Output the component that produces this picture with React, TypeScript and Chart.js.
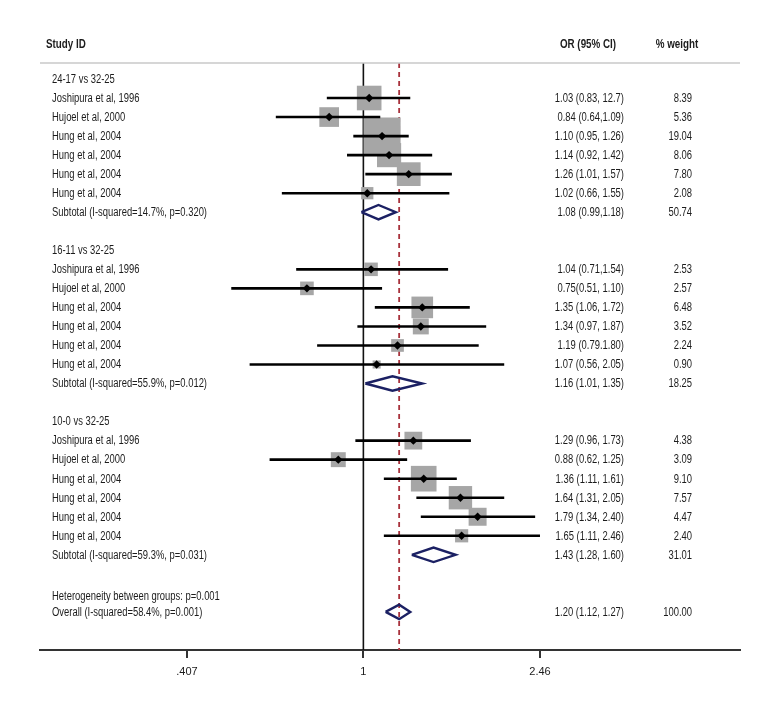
import React, { useEffect, useRef } from "react";
import { Chart, registerables } from "chart.js";

Chart.register(...registerables);

// ---------------- data ----------------
const groupLabels = ["24-17 vs 32-25", "16-11 vs 32-25", "10-0 vs 32-25"];
const studyNames = [
  "Joshipura et al, 1996",
  "Hujoel et al, 2000",
  "Hung et al, 2004",
  "Hung et al, 2004",
  "Hung et al, 2004",
  "Hung et al, 2004",
];

const g1Or = [1.03, 0.84, 1.1, 1.14, 1.26, 1.02];
const g1Lo = [0.83, 0.64, 0.95, 0.92, 1.01, 0.66];
const g1Hi = [1.27, 1.09, 1.26, 1.42, 1.57, 1.55];
const g1Weight = [8.39, 5.36, 19.04, 8.06, 7.8, 2.08];
const g1Text = ["1.03 (0.83, 12.7)", "0.84 (0.64,1.09)", "1.10 (0.95, 1.26)", "1.14 (0.92, 1.42)", "1.26 (1.01, 1.57)", "1.02 (0.66, 1.55)"];

const g2Or = [1.04, 0.75, 1.35, 1.34, 1.19, 1.07];
const g2Lo = [0.71, 0.51, 1.06, 0.97, 0.79, 0.56];
const g2Hi = [1.54, 1.1, 1.72, 1.87, 1.8, 2.05];
const g2Weight = [2.53, 2.57, 6.48, 3.52, 2.24, 0.9];
const g2Text = ["1.04 (0.71,1.54)", "0.75(0.51, 1.10)", "1.35 (1.06, 1.72)", "1.34 (0.97, 1.87)", "1.19 (0.79.1.80)", "1.07 (0.56, 2.05)"];

const g3Or = [1.29, 0.88, 1.36, 1.64, 1.79, 1.65];
const g3Lo = [0.96, 0.62, 1.11, 1.31, 1.34, 1.11];
const g3Hi = [1.73, 1.25, 1.61, 2.05, 2.4, 2.46];
const g3Weight = [4.38, 3.09, 9.1, 7.57, 4.47, 2.4];
const g3Text = ["1.29 (0.96, 1.73)", "0.88 (0.62, 1.25)", "1.36 (1.11, 1.61)", "1.64 (1.31, 2.05)", "1.79 (1.34, 2.40)", "1.65 (1.11, 2.46)"];

const subtotalLabels = [
  "Subtotal (I-squared=14.7%, p=0.320)",
  "Subtotal (I-squared=55.9%, p=0.012)",
  "Subtotal (I-squared=59.3%, p=0.031)",
];
const subtotalOr = [1.08, 1.16, 1.43];
const subtotalLo = [0.99, 1.01, 1.28];
const subtotalHi = [1.18, 1.35, 1.6];
const subtotalWeight = [50.74, 18.25, 31.01];
const subtotalText = ["1.08 (0.99,1.18)", "1.16 (1.01, 1.35)", "1.43 (1.28, 1.60)"];

const overallLabel = "Overall (I-squared=58.4%, p=0.001)";
const heterogeneityLabel = "Heterogeneity between groups: p=0.001";
const overallOr = 1.2;
const overallLo = 1.12;
const overallHi = 1.27;
const overallWeight = 100.0;
const overallText = "1.20 (1.12, 1.27)";

const tickValues = [0.407, 1, 2.46];
const tickLabels = [".407", "1", "2.46"];

// ---------------- styling ----------------
const FONT = '"Liberation Sans", Arial, sans-serif';
const TEXT_SQUEEZE = 0.785;
const TEXT_COLOR = "#1c1c1c";
const BOX_COLOR = "#a6a6a6";
const DIAMOND_COLOR = "#1b2063";
const REF_RED = "#a8323c";
const BOX_SCALE = 8.5;
const DIAMOND_HALF = 0.38;
const X_MIN = 0.1924;
const X_MAX = 6.818;
const Y_MIN = -0.84;
const Y_MAX = 30;

type Row = {
  y: number;
  label: string;
  kind: "group" | "study" | "sub" | "overall" | "het";
  or?: number;
  lo?: number;
  hi?: number;
  w?: number;
  ciText?: string;
};

const groups = [
  { or: g1Or, lo: g1Lo, hi: g1Hi, w: g1Weight, t: g1Text },
  { or: g2Or, lo: g2Lo, hi: g2Hi, w: g2Weight, t: g2Text },
  { or: g3Or, lo: g3Lo, hi: g3Hi, w: g3Weight, t: g3Text },
];

const rows: Row[] = [];
groups.forEach((g, gi) => {
  const start = gi * 9;
  rows.push({ y: start, label: groupLabels[gi], kind: "group" });
  studyNames.forEach((name, i) => {
    rows.push({
      y: start + 1 + i,
      label: name,
      kind: "study",
      or: g.or[i],
      lo: g.lo[i],
      hi: g.hi[i],
      w: g.w[i],
      ciText: g.t[i],
    });
  });
  rows.push({
    y: start + 7,
    label: subtotalLabels[gi],
    kind: "sub",
    or: subtotalOr[gi],
    lo: subtotalLo[gi],
    hi: subtotalHi[gi],
    w: subtotalWeight[gi],
    ciText: subtotalText[gi],
  });
});
rows.push({ y: 27.15, label: heterogeneityLabel, kind: "het" });
rows.push({
  y: 28,
  label: overallLabel,
  kind: "overall",
  or: overallOr,
  lo: overallLo,
  hi: overallHi,
  w: overallWeight,
  ciText: overallText,
});

function squeezedText(ctx: CanvasRenderingContext2D, text: string, x: number, y: number, align: CanvasTextAlign) {
  ctx.save();
  ctx.translate(x, y);
  ctx.scale(TEXT_SQUEEZE, 1);
  ctx.textAlign = align;
  ctx.fillText(text, 0, 0);
  ctx.restore();
}

const textPlugin = {
  id: "forestText",
  afterDraw(chart: any) {
    const { ctx, chartArea, scales } = chart;
    const y = scales.y;
    ctx.save();
    ctx.strokeStyle = "#c9c9c9";
    ctx.lineWidth = 1.5;
    ctx.beginPath();
    ctx.moveTo(chartArea.left, chartArea.top);
    ctx.lineTo(chartArea.right, chartArea.top);
    ctx.stroke();

    ctx.fillStyle = TEXT_COLOR;
    ctx.textBaseline = "middle";
    const hy = chartArea.top - 18;
    ctx.font = `bold 12.5px ${FONT}`;
    squeezedText(ctx, "Study ID", chartArea.left + 6, hy, "left");
    squeezedText(ctx, "OR (95% CI)", 580, hy, "center");
    squeezedText(ctx, "% weight", 669, hy, "center");

    ctx.font = `12px ${FONT}`;
    rows.forEach((r) => {
      const py = y.getPixelForValue(r.y) + 0.5;
      squeezedText(ctx, r.label, chartArea.left + 12, py, "left");
      if (r.ciText) squeezedText(ctx, r.ciText, 616, py, "right");
      if (r.w !== undefined) squeezedText(ctx, r.w.toFixed(2), 684, py, "right");
    });
    ctx.restore();
  },
};

export default function App() {
  const canvasRef = useRef<HTMLCanvasElement | null>(null);

  useEffect(() => {
    if (!canvasRef.current) return;
    const studies = rows.filter((r) => r.kind === "study");
    const pooled = rows.filter((r) => r.kind === "sub" || r.kind === "overall");

    const datasets: any[] = [];
    // center dots (on top)
    datasets.push({
      data: studies.map((r) => ({ x: r.or, y: r.y })),
      pointStyle: "rectRot",
      pointRadius: 4.2,
      backgroundColor: "#000",
      borderColor: "#000",
      borderWidth: 0,
      order: 0,
    });
    // CI lines
    studies.forEach((r) => {
      datasets.push({
        data: [
          { x: r.lo, y: r.y },
          { x: r.hi, y: r.y },
        ],
        showLine: true,
        borderColor: "#000",
        borderWidth: 2.6,
        pointRadius: 0,
        order: 1,
      });
    });
    // diamonds
    pooled.forEach((r) => {
      datasets.push({
        data: [
          { x: r.lo, y: r.y },
          { x: r.or, y: r.y - DIAMOND_HALF },
          { x: r.hi, y: r.y },
          { x: r.or, y: r.y + DIAMOND_HALF },
          { x: r.lo, y: r.y },
        ],
        showLine: true,
        borderColor: DIAMOND_COLOR,
        borderWidth: 2.4,
        borderJoinStyle: "miter",
        pointRadius: 0,
        fill: false,
        order: 1,
      });
    });
    // weight boxes
    datasets.push({
      data: studies.map((r) => ({ x: r.or, y: r.y })),
      pointStyle: "rect",
      pointRadius: studies.map((r) => (BOX_SCALE * Math.sqrt(r.w as number)) / Math.SQRT2),
      backgroundColor: BOX_COLOR,
      borderWidth: 0,
      order: 2,
    });
    // null line at 1
    datasets.push({
      data: [
        { x: 1, y: Y_MIN },
        { x: 1, y: Y_MAX },
      ],
      showLine: true,
      borderColor: "#111",
      borderWidth: 1.6,
      pointRadius: 0,
      order: 3,
    });
    // overall effect dashed line
    datasets.push({
      data: [
        { x: overallOr, y: Y_MIN },
        { x: overallOr, y: Y_MAX },
      ],
      showLine: true,
      borderColor: REF_RED,
      borderWidth: 1.8,
      borderDash: [5, 4],
      pointRadius: 0,
      order: 3,
    });

    const chart = new Chart(canvasRef.current, {
      type: "scatter",
      data: { datasets },
      options: {
        animation: false,
        responsive: false,
        events: [],
        layout: { padding: { left: 32, right: 32, top: 55, bottom: 22 } },
        plugins: { legend: { display: false }, tooltip: { enabled: false } },
        scales: {
          x: {
            type: "logarithmic",
            min: X_MIN,
            max: X_MAX,
            afterBuildTicks: (s: any) => {
              s.ticks = tickValues.map((v) => ({ value: v }));
            },
            afterFit: (s: any) => {
              s.height = 40;
            },
            ticks: {
              autoSkip: false,
              maxRotation: 0,
              padding: 7,
              color: TEXT_COLOR,
              font: { family: FONT, size: 11 },
              callback: (v: any) => {
                const i = tickValues.indexOf(Number(v));
                return i >= 0 ? tickLabels[i] : "";
              },
            },
            grid: { drawOnChartArea: false, drawTicks: true, tickLength: 8, color: "#333", lineWidth: 2 },
            border: { display: true, color: "#333", width: 2 },
          },
          y: {
            type: "linear",
            min: Y_MIN,
            max: Y_MAX,
            reverse: true,
            display: false,
          },
        },
      },
      plugins: [textPlugin],
    } as any);
    return () => chart.destroy();
  }, []);

  return (
    <div style={{ width: 764, height: 704 }}>
      <canvas ref={canvasRef} width={764} height={704} style={{ width: 764, height: 704 }} />
    </div>
  );
}
